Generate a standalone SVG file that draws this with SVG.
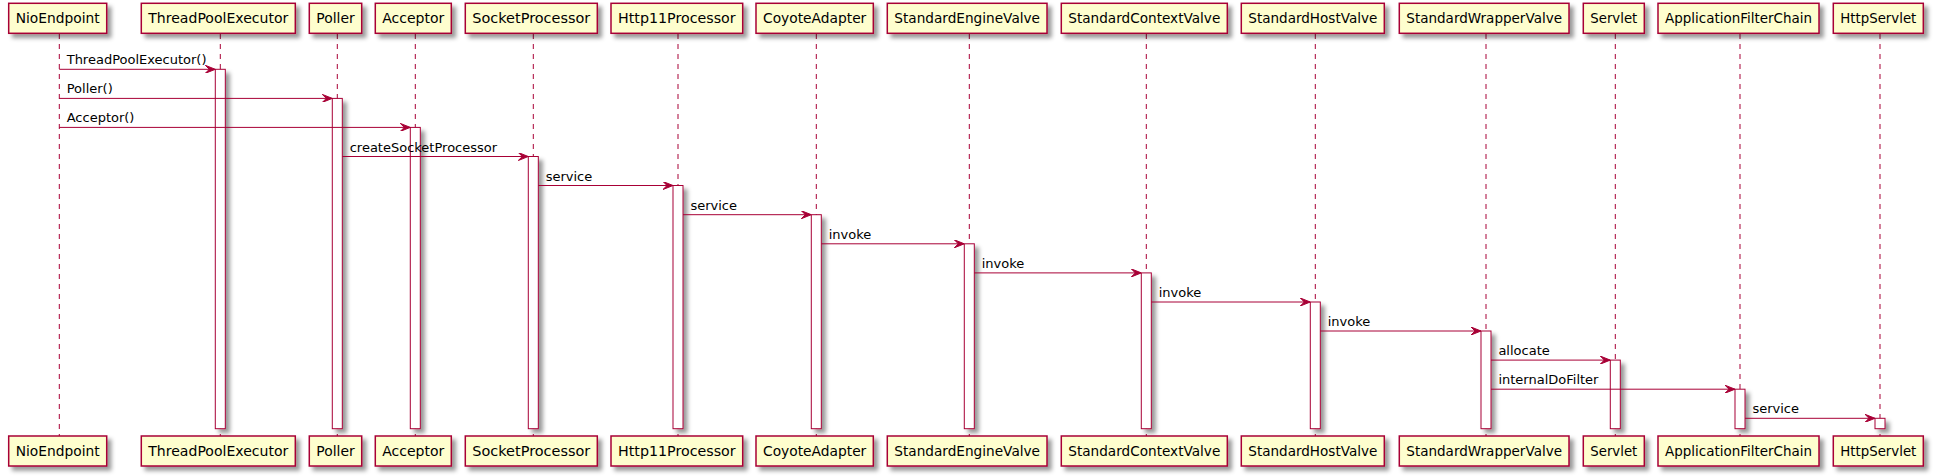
<svg xmlns="http://www.w3.org/2000/svg" width="1933" height="476" viewBox="0 0 1933 476">
<defs>
<filter id="sh" x="-1" y="-1" width="300%" height="300%">
<feGaussianBlur result="b1" stdDeviation="2"/>
<feColorMatrix in="b1" result="b2" type="matrix" values="0 0 0 0 0 0 0 0 0 0 0 0 0 0 0 0 0 0 .4 0"/>
<feOffset dx="4" dy="4" in="b2" result="b3"/>
<feBlend in="SourceGraphic" in2="b3" mode="normal"/>
</filter>
<marker id="ah" viewBox="0 0 10 8" refX="10" refY="4" markerWidth="10" markerHeight="8" markerUnits="userSpaceOnUse" orient="auto">
<polygon points="0,0 10,4 0,8 4,4" fill="#A80036" stroke="#A80036" stroke-width="1"/>
</marker>
<style>
.box{fill:#FEFECE;stroke:#A80036;stroke-width:1.5;filter:url(#sh)}
.life{stroke:#A80036;stroke-width:1;stroke-dasharray:5,5;fill:none}
.act{fill:#FFFFFF;stroke:#A80036;stroke-width:1;filter:url(#sh)}
.pt{font-family:"DejaVu Sans",sans-serif;font-size:14px;fill:#000;text-anchor:middle}
.ln{stroke:#A80036;stroke-width:1;fill:none;marker-end:url(#ah)}
.mt{font-family:"DejaVu Sans",sans-serif;font-size:13px;fill:#000}
</style>
</defs>
<rect x="0" y="0" width="1933" height="476" fill="#FFFFFF"/>

<g id="NioEndpoint">
<line class="life" x1="59.3" y1="34" x2="59.3" y2="436"/>
<rect class="box" x="8.7" y="3.3" width="98" height="30"/>
<text class="pt" x="57.7" y="23" textLength="84" lengthAdjust="spacingAndGlyphs">NioEndpoint</text>
<rect class="box" x="8.7" y="436" width="98" height="30"/>
<text class="pt" x="57.7" y="455.7" textLength="84" lengthAdjust="spacingAndGlyphs">NioEndpoint</text>
</g>

<g id="ThreadPoolExecutor">
<line class="life" x1="220.3" y1="34" x2="220.3" y2="436"/>
<rect class="act" x="215.3" y="69.3" width="10" height="359.4"/>
<rect class="box" x="141.3" y="3.3" width="154" height="30"/>
<text class="pt" x="218.3" y="23" textLength="140" lengthAdjust="spacingAndGlyphs">ThreadPoolExecutor</text>
<rect class="box" x="141.3" y="436" width="154" height="30"/>
<text class="pt" x="218.3" y="455.7" textLength="140" lengthAdjust="spacingAndGlyphs">ThreadPoolExecutor</text>
</g>

<g id="Poller">
<line class="life" x1="337.3" y1="34" x2="337.3" y2="436"/>
<rect class="act" x="332.3" y="98.4" width="10" height="330.3"/>
<rect class="box" x="309.3" y="3.3" width="52.4" height="30"/>
<text class="pt" x="335.5" y="23" textLength="38.4" lengthAdjust="spacingAndGlyphs">Poller</text>
<rect class="box" x="309.3" y="436" width="52.4" height="30"/>
<text class="pt" x="335.5" y="455.7" textLength="38.4" lengthAdjust="spacingAndGlyphs">Poller</text>
</g>

<g id="Acceptor">
<line class="life" x1="415.3" y1="34" x2="415.3" y2="436"/>
<rect class="act" x="410.3" y="127.4" width="10" height="301.3"/>
<rect class="box" x="375.3" y="3.3" width="76" height="30"/>
<text class="pt" x="413.3" y="23" textLength="62" lengthAdjust="spacingAndGlyphs">Acceptor</text>
<rect class="box" x="375.3" y="436" width="76" height="30"/>
<text class="pt" x="413.3" y="455.7" textLength="62" lengthAdjust="spacingAndGlyphs">Acceptor</text>
</g>

<g id="SocketProcessor">
<line class="life" x1="533.3" y1="34" x2="533.3" y2="436"/>
<rect class="act" x="528.3" y="156.5" width="10" height="272.2"/>
<rect class="box" x="465.3" y="3.3" width="132" height="30"/>
<text class="pt" x="531.3" y="23" textLength="118" lengthAdjust="spacingAndGlyphs">SocketProcessor</text>
<rect class="box" x="465.3" y="436" width="132" height="30"/>
<text class="pt" x="531.3" y="455.7" textLength="118" lengthAdjust="spacingAndGlyphs">SocketProcessor</text>
</g>

<g id="Http11Processor">
<line class="life" x1="678" y1="34" x2="678" y2="436"/>
<rect class="act" x="673" y="185.5" width="10" height="243.2"/>
<rect class="box" x="611" y="3.3" width="131.7" height="30"/>
<text class="pt" x="676.85" y="23" textLength="117.7" lengthAdjust="spacingAndGlyphs">Http11Processor</text>
<rect class="box" x="611" y="436" width="131.7" height="30"/>
<text class="pt" x="676.85" y="455.7" textLength="117.7" lengthAdjust="spacingAndGlyphs">Http11Processor</text>
</g>

<g id="CoyoteAdapter">
<line class="life" x1="816.3" y1="34" x2="816.3" y2="436"/>
<rect class="act" x="811.3" y="214.7" width="10" height="214"/>
<rect class="box" x="756" y="3.3" width="117.3" height="30"/>
<text class="pt" x="814.65" y="23" textLength="103.3" lengthAdjust="spacingAndGlyphs">CoyoteAdapter</text>
<rect class="box" x="756" y="436" width="117.3" height="30"/>
<text class="pt" x="814.65" y="455.7" textLength="103.3" lengthAdjust="spacingAndGlyphs">CoyoteAdapter</text>
</g>

<g id="StandardEngineValve">
<line class="life" x1="969.3" y1="34" x2="969.3" y2="436"/>
<rect class="act" x="964.3" y="243.8" width="10" height="184.9"/>
<rect class="box" x="887.3" y="3.3" width="159.7" height="30"/>
<text class="pt" x="967.15" y="23" textLength="145.7" lengthAdjust="spacingAndGlyphs">StandardEngineValve</text>
<rect class="box" x="887.3" y="436" width="159.7" height="30"/>
<text class="pt" x="967.15" y="455.7" textLength="145.7" lengthAdjust="spacingAndGlyphs">StandardEngineValve</text>
</g>

<g id="StandardContextValve">
<line class="life" x1="1146.3" y1="34" x2="1146.3" y2="436"/>
<rect class="act" x="1141.3" y="272.9" width="10" height="155.8"/>
<rect class="box" x="1061.3" y="3.3" width="166" height="30"/>
<text class="pt" x="1144.3" y="23" textLength="152" lengthAdjust="spacingAndGlyphs">StandardContextValve</text>
<rect class="box" x="1061.3" y="436" width="166" height="30"/>
<text class="pt" x="1144.3" y="455.7" textLength="152" lengthAdjust="spacingAndGlyphs">StandardContextValve</text>
</g>

<g id="StandardHostValve">
<line class="life" x1="1315.3" y1="34" x2="1315.3" y2="436"/>
<rect class="act" x="1310.3" y="302" width="10" height="126.7"/>
<rect class="box" x="1241.3" y="3.3" width="143" height="30"/>
<text class="pt" x="1312.8" y="23" textLength="129" lengthAdjust="spacingAndGlyphs">StandardHostValve</text>
<rect class="box" x="1241.3" y="436" width="143" height="30"/>
<text class="pt" x="1312.8" y="455.7" textLength="129" lengthAdjust="spacingAndGlyphs">StandardHostValve</text>
</g>

<g id="StandardWrapperValve">
<line class="life" x1="1486" y1="34" x2="1486" y2="436"/>
<rect class="act" x="1481" y="331" width="10" height="97.7"/>
<rect class="box" x="1399.3" y="3.3" width="169.7" height="30"/>
<text class="pt" x="1484.15" y="23" textLength="155.7" lengthAdjust="spacingAndGlyphs">StandardWrapperValve</text>
<rect class="box" x="1399.3" y="436" width="169.7" height="30"/>
<text class="pt" x="1484.15" y="455.7" textLength="155.7" lengthAdjust="spacingAndGlyphs">StandardWrapperValve</text>
</g>

<g id="Servlet">
<line class="life" x1="1615.3" y1="34" x2="1615.3" y2="436"/>
<rect class="act" x="1610.3" y="360.1" width="10" height="68.6"/>
<rect class="box" x="1583.3" y="3.3" width="61" height="30"/>
<text class="pt" x="1613.8" y="23" textLength="47" lengthAdjust="spacingAndGlyphs">Servlet</text>
<rect class="box" x="1583.3" y="436" width="61" height="30"/>
<text class="pt" x="1613.8" y="455.7" textLength="47" lengthAdjust="spacingAndGlyphs">Servlet</text>
</g>

<g id="ApplicationFilterChain">
<line class="life" x1="1740" y1="34" x2="1740" y2="436"/>
<rect class="act" x="1735" y="389.2" width="10" height="39.5"/>
<rect class="box" x="1658" y="3.3" width="161" height="30"/>
<text class="pt" x="1738.5" y="23" textLength="147" lengthAdjust="spacingAndGlyphs">ApplicationFilterChain</text>
<rect class="box" x="1658" y="436" width="161" height="30"/>
<text class="pt" x="1738.5" y="455.7" textLength="147" lengthAdjust="spacingAndGlyphs">ApplicationFilterChain</text>
</g>

<g id="HttpServlet">
<line class="life" x1="1880" y1="34" x2="1880" y2="436"/>
<rect class="act" x="1875" y="418.3" width="10" height="10.4"/>
<rect class="box" x="1833.3" y="3.3" width="90" height="30"/>
<text class="pt" x="1878.3" y="23" textLength="76" lengthAdjust="spacingAndGlyphs">HttpServlet</text>
<rect class="box" x="1833.3" y="436" width="90" height="30"/>
<text class="pt" x="1878.3" y="455.7" textLength="76" lengthAdjust="spacingAndGlyphs">HttpServlet</text>
</g>

<g id="connectors">
<line class="ln" x1="59.3" y1="69.3" x2="215.3" y2="69.3"/>
<text class="mt" x="66.7" y="64.3">ThreadPoolExecutor()</text>
<line class="ln" x1="59.3" y1="98.4" x2="332.3" y2="98.4"/>
<text class="mt" x="66.7" y="93.4">Poller()</text>
<line class="ln" x1="59.3" y1="127.4" x2="410.3" y2="127.4"/>
<text class="mt" x="66.7" y="122.4">Acceptor()</text>
<line class="ln" x1="342.3" y1="156.5" x2="528.3" y2="156.5"/>
<text class="mt" x="349.7" y="151.5">createSocketProcessor</text>
<line class="ln" x1="538.3" y1="185.5" x2="673" y2="185.5"/>
<text class="mt" x="545.7" y="180.5">service</text>
<line class="ln" x1="683" y1="214.7" x2="811.3" y2="214.7"/>
<text class="mt" x="690.4" y="209.7">service</text>
<line class="ln" x1="821.3" y1="243.8" x2="964.3" y2="243.8"/>
<text class="mt" x="828.7" y="238.8">invoke</text>
<line class="ln" x1="974.3" y1="272.9" x2="1141.3" y2="272.9"/>
<text class="mt" x="981.7" y="267.9">invoke</text>
<line class="ln" x1="1151.3" y1="302" x2="1310.3" y2="302"/>
<text class="mt" x="1158.7" y="297">invoke</text>
<line class="ln" x1="1320.3" y1="331" x2="1481" y2="331"/>
<text class="mt" x="1327.7" y="326">invoke</text>
<line class="ln" x1="1491" y1="360.1" x2="1610.3" y2="360.1"/>
<text class="mt" x="1498.4" y="355.1">allocate</text>
<line class="ln" x1="1491" y1="389.2" x2="1735" y2="389.2"/>
<text class="mt" x="1498.4" y="384.2">internalDoFilter</text>
<line class="ln" x1="1745" y1="418.3" x2="1875" y2="418.3"/>
<text class="mt" x="1752.4" y="413.3">service</text>
</g>
</svg>
